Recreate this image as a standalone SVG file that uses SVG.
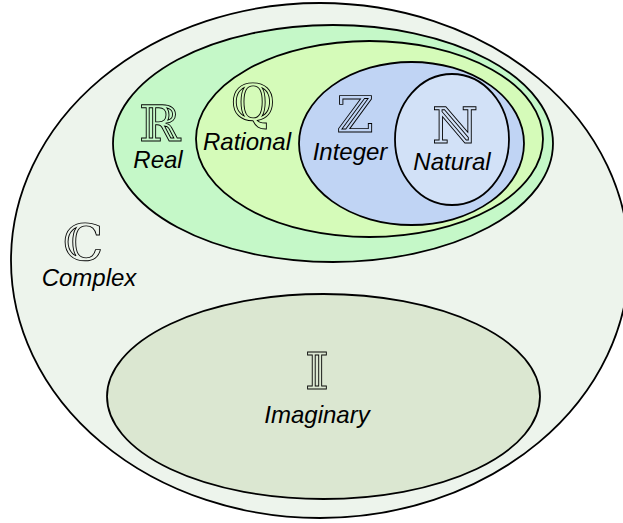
<svg xmlns="http://www.w3.org/2000/svg" width="623" height="523" viewBox="0 0 623 523">
<style>
.set{stroke:#000;stroke-width:1.8}
.sym{font-family:"DejaVu Serif","DejaVu Sans",serif;font-size:50px;fill:none;stroke:#000;stroke-width:0.9;text-anchor:middle}
.lbl{font-family:"Liberation Sans",Arial,sans-serif;font-style:italic;font-size:24px;fill:#000;text-anchor:middle}
</style>
<rect width="623" height="523" fill="#fff"/>
<g id="complex">
<ellipse class="set" cx="320" cy="260.5" rx="309" ry="257.5" fill="#edf4ec"/>
<text class="sym" x="83" y="260">ℂ</text>
<text class="lbl" x="89" y="286">Complex</text>
</g>
<g id="real">
<ellipse class="set" cx="333" cy="143.5" rx="220" ry="118.5" fill="#c5f8c8"/>
<text class="sym" x="160" y="141">ℝ</text>
<text class="lbl" x="158" y="168">Real</text>
</g>
<g id="rational">
<ellipse class="set" cx="369.5" cy="139" rx="173.5" ry="98" fill="#d5fbb9"/>
<text class="sym" x="253" y="120">ℚ</text>
<text class="lbl" x="247" y="150">Rational</text>
</g>
<g id="integer">
<ellipse class="set" cx="411.5" cy="143.5" rx="112.5" ry="81.5" fill="#c0d4f4"/>
<text class="sym" x="355" y="132">ℤ</text>
<text class="lbl" x="350" y="160">Integer</text>
</g>
<g id="natural">
<ellipse class="set" cx="452" cy="139.5" rx="57" ry="65.5" fill="#d2e1f7"/>
<text class="sym" x="455" y="143">ℕ</text>
<text class="lbl" x="452" y="170">Natural</text>
</g>
<g id="imaginary">
<ellipse class="set" cx="323.5" cy="396.5" rx="216.5" ry="102.5" fill="#dbe7d1"/>
<text class="sym" x="317" y="389">𝕀</text>
<text class="lbl" x="317" y="423">Imaginary</text>
</g>
</svg>
